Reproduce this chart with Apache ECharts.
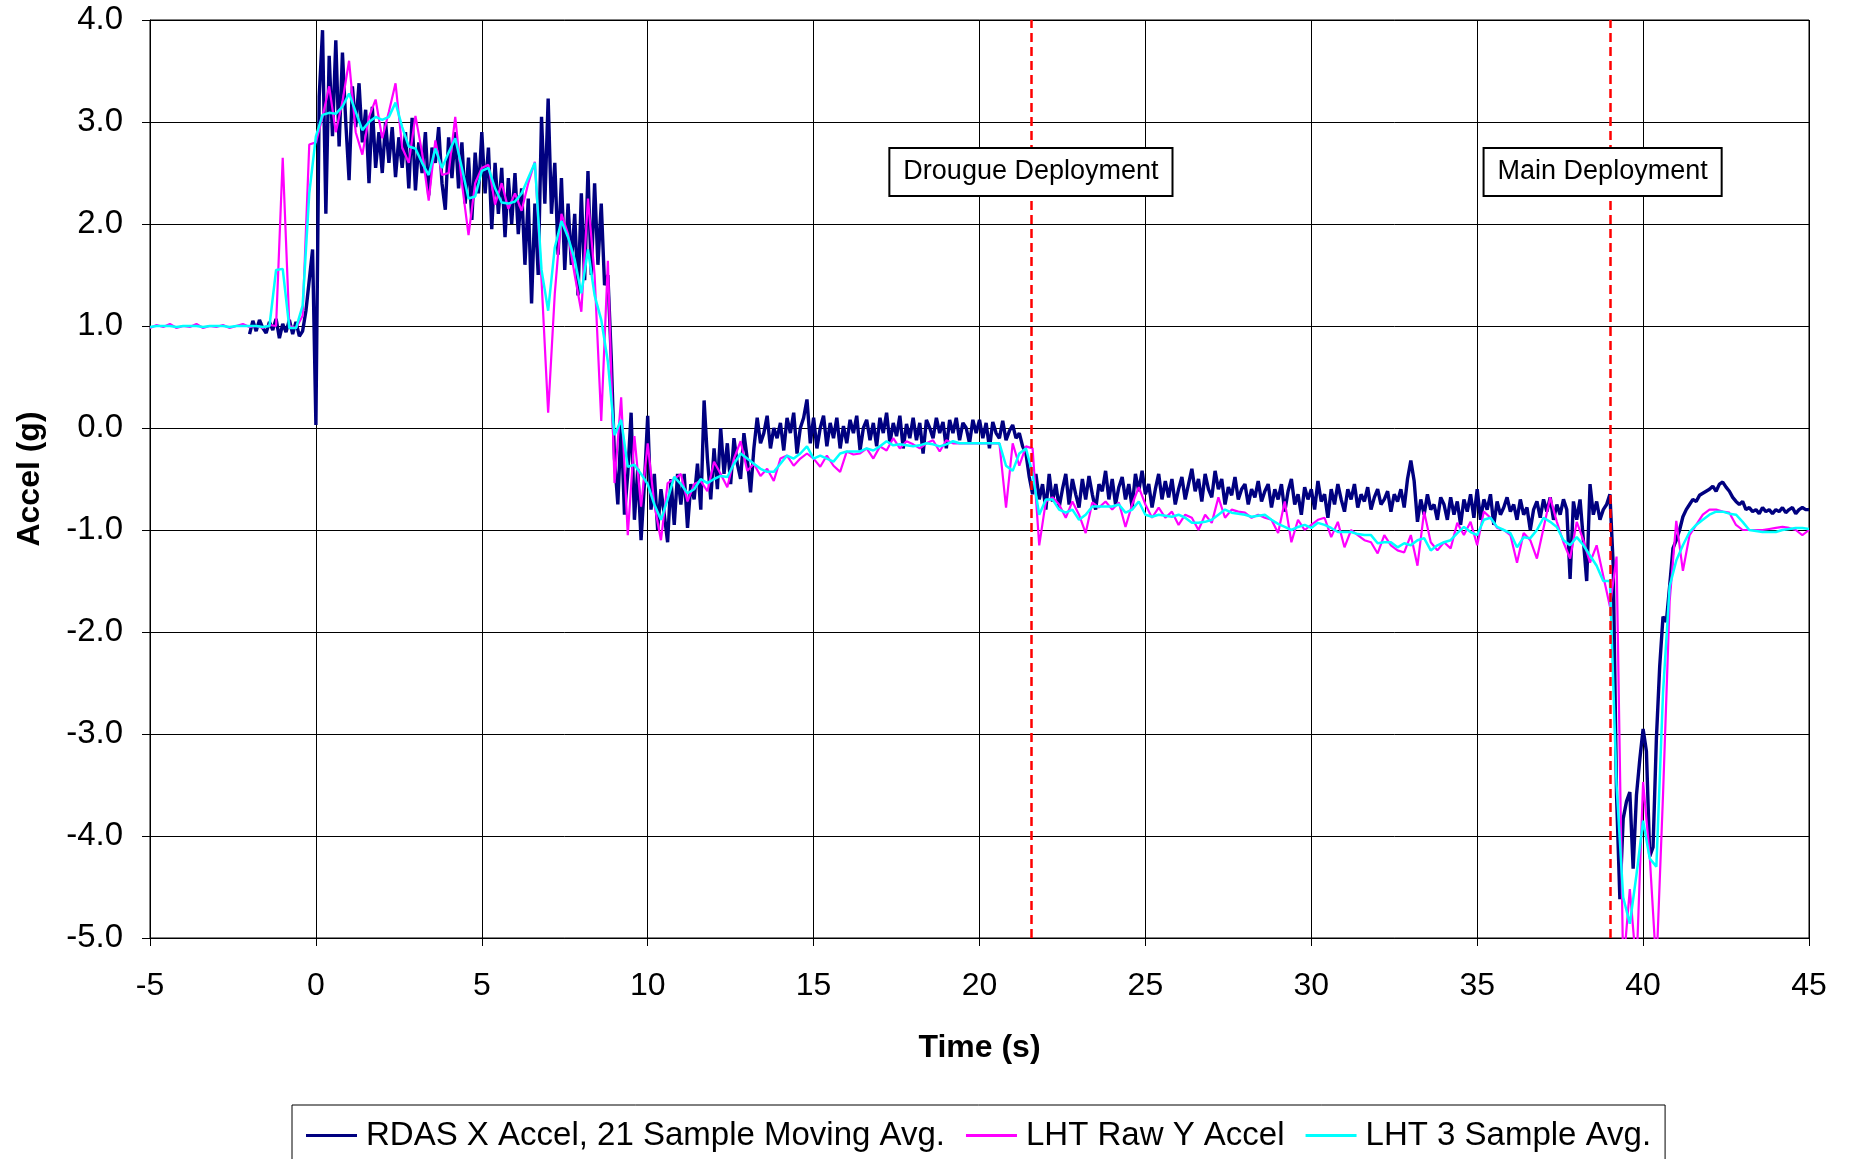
<!DOCTYPE html>
<html>
<head>
<meta charset="utf-8">
<script src="https://cdn.jsdelivr.net/npm/echarts@6/dist/echarts.min.js"></script>
<style>
  html, body { margin: 0; padding: 0; background: #fff; }
  #chart { width: 1849px; height: 1159px; }
</style>
</head>
<body>
<div id="chart"></div>
<script>
// RDAS X accel, 21 sample moving avg. One value every 0.1 s, starting at t = -2.0
const rdasStart = -2.0
const rdasStep = 0.1
const rdasAccel = [
  0.92, 1.05, 0.95, 1.06, 0.98, 0.93, 1.04, 0.96, 1.07, 0.88,
  1.02, 0.94, 1.06, 0.92, 1.04, 0.90, 0.95, 1.15, 1.45, 1.75,
  0.03, 3.25, 3.90, 2.10, 3.65, 2.86, 3.80, 2.76, 3.68, 3.00,
  2.43, 3.35, 2.95, 3.38, 2.80, 3.12, 2.40, 3.15, 2.55, 2.90,
  2.50, 3.00, 2.60, 2.95, 2.46, 2.85, 2.55, 2.90, 2.35, 3.04,
  2.33, 2.80, 2.50, 2.90, 2.28, 2.75, 2.60, 2.95, 2.40, 2.14,
  2.85, 2.45, 2.90, 2.35, 2.80, 2.20, 2.65, 2.04, 2.70, 2.30,
  2.90, 2.30, 2.75, 1.95, 2.60, 2.10, 2.55, 1.87, 2.45, 2.00,
  2.50, 1.90, 2.35, 1.60, 2.25, 1.22, 2.20, 1.50, 3.05, 2.20,
  3.23, 2.10, 2.60, 1.70, 2.45, 1.55, 2.20, 1.60, 2.10, 1.30,
  2.30, 1.45, 2.52, 1.50, 2.40, 1.60, 2.20, 1.40, 1.50, 0.70,
  -0.30, -0.75, 0.05, -0.85, -0.45, 0.15, -0.90, -0.40, -1.10, -0.55,
  0.12, -0.80, -0.45, -1.00, -0.60, -0.85, -1.12, -0.50, -0.95, -0.45,
  -0.75, -0.45, -0.98, -0.55, -0.70, -0.35, -0.80, 0.27, -0.30, -0.70,
  -0.20, -0.60, 0.00, -0.45, -0.15, -0.55, -0.10, -0.35, -0.50, -0.05,
  -0.30, -0.63, -0.20, 0.10, -0.15, -0.05, 0.12, -0.20, 0.00, -0.10,
  0.05, -0.22, 0.10, -0.05, 0.15, -0.25, 0.00, 0.10, 0.28, -0.15,
  0.10, -0.20, 0.00, 0.12, -0.18, 0.05, -0.10, 0.10, -0.20, 0.02,
  -0.15, 0.08, -0.05, 0.12, -0.22, 0.00, 0.08, -0.12, 0.05, -0.18,
  0.10, -0.05, 0.15, -0.15, 0.05, -0.08, 0.12, -0.20, 0.04, -0.10,
  0.10, -0.12, 0.05, -0.25, 0.08, 0.00, -0.10, 0.10, -0.05, 0.06,
  -0.20, 0.08, -0.05, 0.10, -0.12, 0.05, 0.00, -0.15, 0.08, -0.05,
  0.08, -0.10, 0.05, -0.20, 0.06, -0.05, -0.10, 0.07, -0.12, -0.03,
  0.03, -0.10, -0.05, -0.18, -0.25, -0.48, -0.65, -0.45, -0.70, -0.55,
  -0.80, -0.45, -0.72, -0.55, -0.78, -0.60, -0.45, -0.75, -0.50, -0.65,
  -0.78, -0.50, -0.70, -0.47, -0.65, -0.80, -0.55, -0.62, -0.42, -0.70,
  -0.50, -0.75, -0.58, -0.48, -0.70, -0.55, -0.78, -0.45, -0.62, -0.42,
  -0.65, -0.55, -0.78, -0.60, -0.45, -0.70, -0.52, -0.68, -0.50, -0.75,
  -0.60, -0.48, -0.70, -0.55, -0.40, -0.62, -0.50, -0.72, -0.45, -0.60,
  -0.68, -0.42, -0.60, -0.50, -0.75, -0.58, -0.66, -0.48, -0.70, -0.60,
  -0.55, -0.75, -0.60, -0.68, -0.52, -0.72, -0.62, -0.55, -0.78, -0.60,
  -0.70, -0.55, -0.82, -0.62, -0.50, -0.75, -0.65, -0.85, -0.58, -0.70,
  -0.60, -0.80, -0.52, -0.72, -0.65, -0.88, -0.60, -0.75, -0.55, -0.70,
  -0.82, -0.60, -0.70, -0.55, -0.78, -0.65, -0.72, -0.58, -0.80, -0.68,
  -0.60, -0.75, -0.70, -0.62, -0.82, -0.65, -0.72, -0.60, -0.78, -0.50,
  -0.32, -0.52, -0.92, -0.70, -0.85, -0.65, -0.80, -0.75, -0.90, -0.68,
  -0.75, -0.90, -0.68, -0.85, -0.72, -0.95, -0.70, -0.82, -0.65, -0.88,
  -0.60, -0.90, -0.70, -0.80, -0.65, -0.95, -0.72, -0.85, -0.78, -0.68,
  -0.82, -0.75, -0.90, -0.70, -0.85, -0.78, -1.00, -0.80, -0.72, -0.88,
  -0.70, -0.82, -0.68, -0.90, -0.75, -0.85, -0.70, -0.80, -1.48, -0.72,
  -0.90, -0.70, -1.10, -1.50, -0.55, -0.85, -0.72, -0.90, -0.80, -0.75,
  -0.65, -1.35, -3.60, -4.62, -3.83, -3.66, -3.57, -4.32, -3.60, -3.25,
  -2.95, -3.17, -4.20, -4.11, -3.05, -2.34, -1.85, -1.90, -1.55, -1.18,
  -1.10, -1.00, -0.87, -0.80, -0.75, -0.70, -0.72, -0.66, -0.64, -0.62,
  -0.60, -0.57, -0.62, -0.55, -0.53, -0.58, -0.62, -0.68, -0.72, -0.75,
  -0.72, -0.80, -0.78, -0.82, -0.80, -0.84, -0.78, -0.82, -0.80, -0.84,
  -0.80, -0.82, -0.78, -0.83, -0.80, -0.78, -0.84, -0.80, -0.78, -0.80,
  -0.80
]

// LHT raw Y accel and its 3 sample average. One value every 0.2 s, starting at t = -5.0
const lhtStart = -5.0
const lhtStep = 0.2
const lhtRaw = [
  0.98, 1.01, 0.99, 1.02, 0.98, 1.00, 0.99, 1.02, 0.98, 1.00,
  0.99, 1.01, 0.98, 1.00, 1.02, 0.99, 1.00, 0.98, 1.01, 1.00,
  2.65, 1.00, 0.98, 1.10, 2.78, 2.80, 3.05, 3.35, 2.90, 3.20,
  3.60, 2.90, 2.68, 3.05, 3.22, 2.84, 3.10, 3.38, 2.75, 2.60,
  3.06, 2.70, 2.23, 2.82, 2.48, 2.50, 3.05, 2.40, 1.89, 2.40,
  2.55, 2.58, 2.19, 2.40, 2.15, 2.30, 2.13, 2.40, 2.61, 1.45,
  0.15, 1.32, 2.10, 1.90, 1.50, 1.14, 2.25, 1.50, 0.07, 1.64,
  -0.54, 0.30, -1.05, -0.08, -0.77, -0.15, -0.75, -1.10, -0.54, -0.50,
  -0.45, -0.72, -0.55, -0.52, -0.62, -0.33, -0.45, -0.58, -0.30, -0.13,
  -0.42, -0.35, -0.47, -0.40, -0.52, -0.30, -0.27, -0.37, -0.30, -0.25,
  -0.30, -0.38, -0.27, -0.37, -0.43, -0.23, -0.26, -0.25, -0.20, -0.30,
  -0.18, -0.22, -0.10, -0.20, -0.13, -0.16, -0.20, -0.15, -0.12, -0.23,
  -0.12, -0.15, -0.15, -0.15, -0.15, -0.15, -0.15, -0.15, -0.15, -0.78,
  -0.15, -0.37, -0.18, -0.20, -1.15, -0.72, -0.68, -0.75, -0.88, -0.72,
  -0.85, -1.03, -0.73, -0.78, -0.72, -0.80, -0.73, -0.97, -0.75, -0.58,
  -0.75, -0.88, -0.78, -0.88, -0.82, -0.95, -0.85, -0.88, -1.00, -0.85,
  -0.93, -0.68, -0.88, -0.80, -0.82, -0.83, -0.88, -0.85, -0.88, -0.90,
  -1.03, -0.72, -1.12, -0.90, -1.00, -0.95, -0.90, -0.88, -1.07, -0.92,
  -1.17, -1.00, -1.05, -1.10, -1.12, -1.23, -1.05, -1.15, -1.20, -1.22,
  -1.05, -1.35, -0.82, -1.12, -1.20, -1.12, -1.18, -0.93, -1.05, -0.92,
  -1.15, -0.82, -0.88, -0.98, -1.00, -1.05, -1.32, -1.03, -1.10, -1.28,
  -0.98, -0.68, -0.92, -1.12, -1.28, -0.92, -1.10, -1.32, -1.15, -1.45,
  -1.75, -1.26, -5.30, -4.52, -5.30, -3.47, -4.20, -5.30, -3.60, -1.70,
  -0.91, -1.40, -1.05, -0.95, -0.85, -0.80, -0.80, -0.82, -0.83, -0.95,
  -1.00, -1.00, -1.00, -1.00, -0.99, -0.98, -0.97, -0.98, -1.00, -1.05,
  -1.00
]
const lhtAvg = [
  0.99, 1.00, 1.00, 1.00, 0.99, 1.00, 1.00, 1.00, 0.99, 1.00,
  1.00, 1.00, 0.99, 1.00, 1.00, 1.00, 1.00, 0.99, 1.00, 1.55,
  1.56, 0.98, 0.98, 1.20, 2.30, 2.86, 3.07, 3.09, 3.08, 3.15,
  3.28, 3.10, 2.92, 3.00, 3.05, 3.02, 3.05, 3.19, 2.95, 2.76,
  2.74, 2.60, 2.48, 2.74, 2.55, 2.70, 2.84, 2.55, 2.25, 2.27,
  2.52, 2.55, 2.35, 2.21, 2.20, 2.22, 2.30, 2.45, 2.60, 1.55,
  1.15, 1.77, 2.03, 1.87, 1.65, 1.32, 1.75, 1.30, 1.06, 0.65,
  -0.07, 0.08, -0.38, -0.36, -0.45, -0.55, -0.75, -0.90, -0.70, -0.48,
  -0.55, -0.64, -0.60, -0.50, -0.54, -0.50, -0.47, -0.48, -0.35, -0.25,
  -0.30, -0.35, -0.40, -0.43, -0.43, -0.35, -0.27, -0.30, -0.25, -0.18,
  -0.30, -0.27, -0.30, -0.33, -0.25, -0.23, -0.23, -0.23, -0.20, -0.22,
  -0.18, -0.13, -0.17, -0.16, -0.17, -0.18, -0.17, -0.15, -0.16, -0.18,
  -0.16, -0.13, -0.15, -0.15, -0.15, -0.15, -0.15, -0.15, -0.15, -0.37,
  -0.42, -0.25, -0.20, -0.45, -0.85, -0.70, -0.70, -0.80, -0.83, -0.80,
  -0.90, -0.85, -0.77, -0.77, -0.77, -0.77, -0.75, -0.83, -0.80, -0.72,
  -0.85, -0.87, -0.85, -0.86, -0.87, -0.85, -0.88, -0.93, -0.93, -0.92,
  -0.90, -0.85, -0.80, -0.83, -0.84, -0.85, -0.87, -0.86, -0.85, -0.90,
  -0.94, -0.97, -1.00, -0.97, -0.95, -0.98, -0.93, -0.95, -0.98, -1.02,
  -1.02, -1.02, -1.04, -1.05, -1.05, -1.13, -1.12, -1.12, -1.17, -1.13,
  -1.15, -1.10, -1.08, -1.20, -1.15, -1.12, -1.10, -1.03, -0.97, -1.02,
  -1.05, -0.90, -0.88, -0.97, -1.00, -1.03, -1.17, -1.07, -1.08, -1.00,
  -0.88, -0.92, -0.97, -1.10, -1.15, -1.07, -1.15, -1.25, -1.35, -1.50,
  -1.50, -3.50, -4.60, -4.86, -4.38, -3.85, -4.22, -4.30, -2.60, -1.55,
  -1.30, -1.15, -1.02, -0.95, -0.90, -0.85, -0.82, -0.82, -0.84, -0.85,
  -0.92, -1.00, -1.01, -1.02, -1.02, -1.02, -1.00, -0.99, -0.98, -0.98,
  -0.99
]

const seriesNames = ['RDAS X Accel, 21 Sample Moving Avg.', 'LHT Raw Y Accel', 'LHT 3 Sample Avg.']
const seriesColors = ['#000080', '#FF00FF', '#00FFFF']

// deployment events: time (s) of the red line, and where its text box sits
const eventTimes = [21.55, 39.0]
const eventLabels = ['Drougue Deployment', 'Main Deployment']
const eventLabelX = [21.55, 38.78]
const eventLabelY = 2.51

const xTicks = { min: -5, max: 45, interval: 5 }
const yTicks = { min: -5, max: 4, interval: 1 }

function toPairs(start, step, values) {
    return values.map((v, i) => [Math.round((start + i * step) * 100) / 100, v])
}

const FONT = '"Liberation Sans", Arial, sans-serif'

let chart = echarts.init(document.getElementById('chart'), null, { renderer: 'canvas' })

let options = {
    animation: false,
    backgroundColor: '#fff',
    grid: {
        left: 150,
        right: 40,
        top: 20,
        bottom: 221,
        show: true,
        borderColor: '#000',
        borderWidth: 1,
        backgroundColor: '#fff',
        containLabel: false,
        outerBoundsMode: 'none'
    },
    xAxis: {
        type: 'value',
        min: xTicks.min,
        max: xTicks.max,
        interval: xTicks.interval,
        name: 'Time (s)',
        nameLocation: 'middle',
        nameGap: 94,
        nameTextStyle: { color: '#000', fontSize: 32, fontWeight: 'bold', fontFamily: FONT },
        axisLine: { show: true, onZero: false, lineStyle: { color: '#000', width: 1 } },
        axisTick: { show: true, inside: false, length: 8, lineStyle: { color: '#000' } },
        axisLabel: { color: '#000', fontSize: 32, fontFamily: FONT, margin: 32 },
        splitLine: { show: true, lineStyle: { color: '#000', width: 1 } }
    },
    yAxis: {
        type: 'value',
        min: yTicks.min,
        max: yTicks.max,
        interval: yTicks.interval,
        name: 'Accel (g)',
        nameLocation: 'middle',
        nameGap: 104,
        nameRotate: 90,
        nameTextStyle: { color: '#000', fontSize: 32, fontWeight: 'bold', fontFamily: FONT },
        axisLine: { show: true, onZero: false, lineStyle: { color: '#000', width: 1 } },
        axisTick: { show: true, inside: false, length: 8, lineStyle: { color: '#000' } },
        axisLabel: {
            color: '#000', fontSize: 33, fontFamily: FONT, margin: 27,
            formatter: (value) => value.toFixed(1)
        },
        splitLine: { show: true, lineStyle: { color: '#000', width: 1 } }
    },
    legend: {
        show: true,
        data: seriesNames,
        left: 292,
        top: 1105,
        orient: 'horizontal',
        padding: [14, 14, 14, 14],
        itemGap: 21,
        itemWidth: 51,
        itemHeight: 3,
        icon: 'rect',
        borderColor: '#000',
        borderWidth: 1,
        backgroundColor: '#fff',
        textStyle: { color: '#000', fontSize: 33, fontFamily: FONT, padding: [0, 0, 0, 4] }
    },
    series: [
        {
            name: seriesNames[0],
            type: 'line',
            data: toPairs(rdasStart, rdasStep, rdasAccel),
            symbol: 'none',
            color: seriesColors[0],
            lineStyle: { color: seriesColors[0], width: 3.4 },
            z: 2
        },
        {
            name: seriesNames[1],
            type: 'line',
            data: toPairs(lhtStart, lhtStep, lhtRaw),
            symbol: 'none',
            color: seriesColors[1],
            lineStyle: { color: seriesColors[1], width: 2.2 },
            z: 3
        },
        {
            name: seriesNames[2],
            type: 'line',
            data: toPairs(lhtStart, lhtStep, lhtAvg),
            symbol: 'none',
            color: seriesColors[2],
            lineStyle: { color: seriesColors[2], width: 2.5 },
            z: 4
        },
        {
            // event markers only
            name: 'events',
            type: 'line',
            data: [],
            z: 5,
            markLine: {
                silent: true,
                symbol: ['none', 'none'],
                z: 5,
                label: { show: false },
                lineStyle: { color: '#FF0000', width: 2.5, type: [9, 5] },
                data: eventTimes.map((t) => ({ xAxis: t }))
            },
            markPoint: {
                silent: true,
                z: 10,
                symbol: 'rect',
                symbolSize: 1,
                itemStyle: { color: 'rgba(0,0,0,0)' },
                label: {
                    show: true,
                    position: 'inside',
                    color: '#000',
                    fontSize: 27,
                    fontFamily: FONT,
                    backgroundColor: '#fff',
                    borderColor: '#000',
                    borderWidth: 2,
                    padding: [10, 13, 9, 13],
                    formatter: (p) => p.name
                },
                data: eventLabels.map((name, i) => ({ name: name, coord: [eventLabelX[i], eventLabelY] }))
            }
        }
    ]
}

chart.setOption(options)
window.addEventListener('resize', () => chart.resize())
</script>
</body>
</html>
